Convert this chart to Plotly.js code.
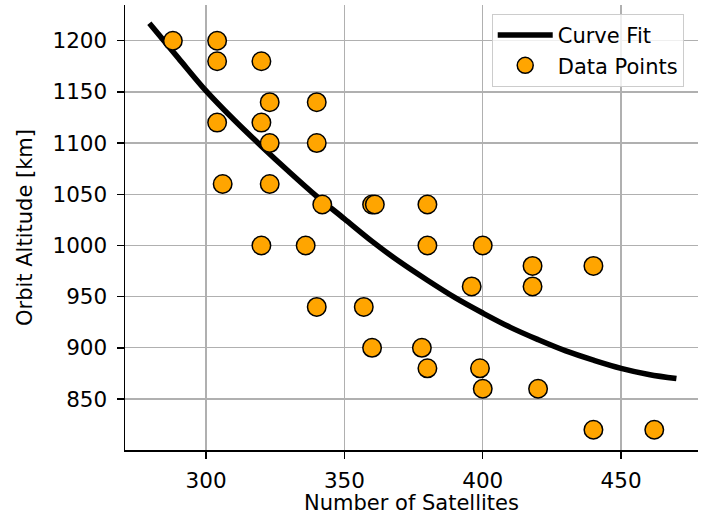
<!DOCTYPE html>
<html>
<head>
<meta charset="utf-8">
<script src="https://cdn.plot.ly/plotly-3.0.1.min.js"></script>
<style>html,body{margin:0;padding:0;background:#fff;}#chart{width:701px;height:515px;}</style>
</head>
<body>
<div id="chart"></div>
<script>
// Data points
const satellites = [288, 304, 304, 320, 304, 323, 340, 320, 323, 340, 306, 323, 342, 360, 361, 380, 320, 336, 380, 400, 418, 440, 396, 418, 340, 357, 360, 378, 380, 399, 400, 420, 440, 462];
const altitudes  = [1200, 1200, 1180, 1180, 1120, 1140, 1140, 1120, 1100, 1100, 1060, 1060, 1040, 1040, 1040, 1040, 1000, 1000, 1000, 1000, 980, 980, 960, 960, 940, 940, 900, 900, 880, 880, 860, 860, 820, 820];

// Curve fit line
const fitX = [279.5, 290, 300, 310, 320, 330, 340, 350, 360, 370, 380, 390, 400, 410, 420, 430, 440, 450, 460, 470];
const fitY = [1217, 1183, 1151, 1123, 1097, 1072, 1048, 1026, 1004, 984, 966, 949, 934, 920, 908, 897, 888, 880, 874, 870];

const xTicks = [300, 350, 400, 450];
const yTicks = [850, 900, 950, 1000, 1050, 1100, 1150, 1200];

const FONT = "DejaVu Sans, sans-serif";

const traces = [
  {
    x: fitX, y: fitY, type: "scatter", mode: "lines", name: "Curve Fit",
    line: {color: "#000000", width: 5.5, shape: "spline", smoothing: 1}, legendgroup: "a"
  },
  {
    x: satellites, y: altitudes, type: "scatter", mode: "markers", name: "Data Points",
    marker: {color: "#FFA500", size: 18.5, line: {color: "#000000", width: 1.5}}, legendgroup: "b"
  }
];

const axisCommon = {
  showgrid: true, gridcolor: "#b0b0b0", gridwidth: 1.3,
  zeroline: false, showline: true, linecolor: "#000000", linewidth: 1.5,
  ticks: "outside", ticklen: 7, tickwidth: 1.5, tickcolor: "#000000",
  tickfont: {family: FONT, size: 21.5, color: "#000000"},
  tickmode: "array"
};

const layout = {
  width: 701, height: 515,
  margin: {l: 125, r: 3, t: 5, b: 65},
  paper_bgcolor: "#ffffff", plot_bgcolor: "#ffffff",
  font: {family: FONT, size: 21, color: "#000000"},
  xaxis: Object.assign({}, axisCommon, {
    range: [270.7, 477.8], tickvals: xTicks, ticklabelstandoff: 4,
    title: {text: "Number of Satellites", font: {family: FONT, size: 21, color: "#000000"}, standoff: 12}
  }),
  yaxis: Object.assign({}, axisCommon, {
    range: [800.2, 1234.9], tickvals: yTicks, ticklabelstandoff: 5,
    title: {text: "Orbit Altitude [km]", font: {family: FONT, size: 21, color: "#000000"}, standoff: 14}
  }),
  showlegend: true,
  legend: {
    x: 0.64, y: 0.98, xanchor: "left", yanchor: "top",
    bgcolor: "rgba(255,255,255,0.8)", bordercolor: "#cccccc", borderwidth: 1,
    font: {family: FONT, size: 21, color: "#000000"},
    tracegroupgap: 0, itemwidth: 55
  }
};

Plotly.newPlot("chart", traces, layout, {staticPlot: true, displayModeBar: false});
</script>
</body>
</html>
